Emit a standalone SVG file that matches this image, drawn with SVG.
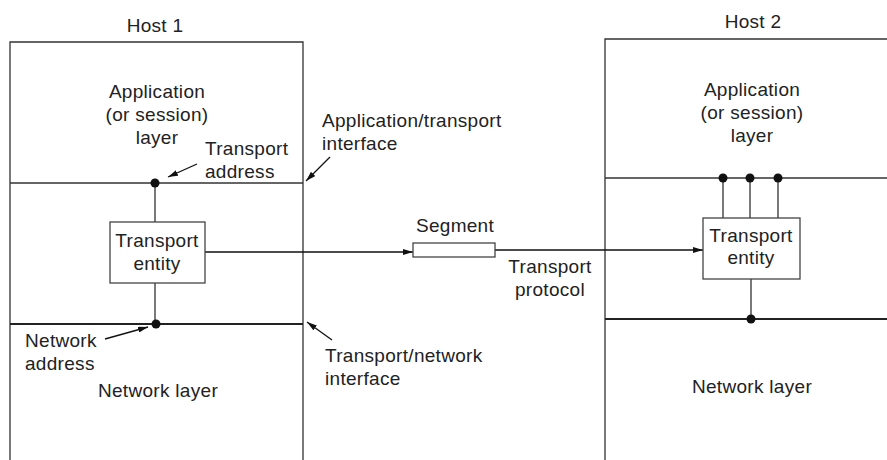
<svg xmlns="http://www.w3.org/2000/svg" width="887" height="460" viewBox="0 0 887 460">
<defs>
<marker id="ah" viewBox="0 0 10 6" refX="10" refY="3" markerWidth="10" markerHeight="6" markerUnits="userSpaceOnUse" orient="auto"><path d="M0,0 L10,3 L0,6 Z" fill="#111"/></marker>
</defs>
<style>
text{font-family:"Liberation Sans",Arial,sans-serif;font-size:19px;letter-spacing:0.3px;fill:#222}
.m{text-anchor:middle}
.ln{stroke:#333;stroke-width:1.3;fill:none}
.thick{stroke:#222;stroke-width:2;fill:none}
.box{fill:#fff;stroke:#444;stroke-width:1.3}
.arr{stroke:#111;stroke-width:1.3;fill:none;marker-end:url(#ah)}
.dot{fill:#111}
</style>
<rect width="887" height="460" fill="#fff"/>
<g id="host1">
<text class="m" x="155" y="32">Host 1</text>
<path class="ln" d="M10,460 V42 H303 V460"/>
<path class="ln" d="M10,183 H303"/>
<path class="thick" d="M10,324 H303"/>
<text class="m" x="157" y="98">Application</text>
<text class="m" x="157" y="121">(or session)</text>
<text class="m" x="157" y="144">layer</text>
<text class="m" x="158" y="397">Network layer</text>
</g>
<g id="host2">
<text class="m" x="753" y="28">Host 2</text>
<path class="ln" d="M605,460 V39 H887"/>
<path class="ln" d="M605,178 H887"/>
<path class="thick" d="M605,319 H887"/>
<text class="m" x="752" y="96">Application</text>
<text class="m" x="752" y="119">(or session)</text>
<text class="m" x="752" y="142">layer</text>
<text class="m" x="752" y="393">Network layer</text>
</g>
<g id="connectors">
<path class="ln" d="M155,183 V222 M155,283 V324"/>
<path class="ln" d="M723,178 V218 M750,178 V218 M778,178 V218 M751,279 V319"/>
<path class="arr" d="M205,252 H413"/>
<path class="arr" d="M495,250 H703"/>
<path class="arr" d="M197,164 L168,177"/>
<path class="arr" d="M330,157 L306,181"/>
<path class="arr" d="M332,340 L307,322"/>
<path class="arr" d="M105,339 L148,327"/>
</g>
<g id="te1">
<rect class="box" x="110" y="222" width="95" height="61"/>
<text class="m" x="157" y="247">Transport</text>
<text class="m" x="157" y="270">entity</text>
</g>
<g id="te2">
<rect class="box" x="703" y="218" width="97" height="61"/>
<text class="m" x="751" y="242">Transport</text>
<text class="m" x="751" y="264">entity</text>
</g>
<g id="segment">
<rect class="box" x="413" y="243" width="82" height="14"/>
<text class="m" x="455" y="232">Segment</text>
</g>
<g id="labels">
<text x="205" y="155">Transport</text>
<text x="205" y="178">address</text>
<text x="322" y="127">Application/transport</text>
<text x="322" y="150">interface</text>
<text class="m" x="550" y="273">Transport</text>
<text class="m" x="550" y="296">protocol</text>
<text x="325" y="362">Transport/network</text>
<text x="325" y="385">interface</text>
<text x="25" y="347">Network</text>
<text x="25" y="370">address</text>
</g>
<g id="dots">
<circle class="dot" cx="155" cy="183" r="4.5"/>
<circle class="dot" cx="156" cy="324" r="4.5"/>
<circle class="dot" cx="723" cy="178" r="4.5"/>
<circle class="dot" cx="750" cy="178" r="4.5"/>
<circle class="dot" cx="778" cy="178" r="4.5"/>
<circle class="dot" cx="751" cy="319" r="4.5"/>
</g>
</svg>
